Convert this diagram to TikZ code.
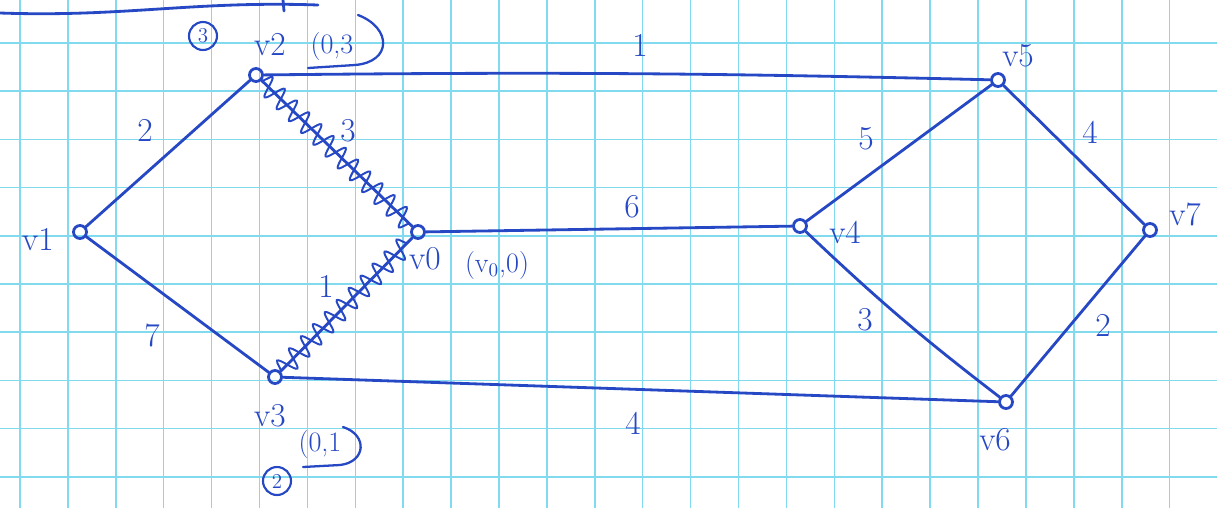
\documentclass[tikz,border=0pt]{standalone}
\usepackage{fontspec}
\usetikzlibrary{decorations.pathmorphing}
\definecolor{pen}{RGB}{38,72,196}
\definecolor{paper}{RGB}{130,218,238}
\begin{document}
\begin{tikzpicture}[x=0.02cm, y=-0.02cm,
    ink/.style={pen, line width=1.6pt, line cap=round},
    vert/.style={circle, draw=pen, line width=1.6pt, inner sep=0pt, minimum size=0.26cm},
    lbl/.style={pen, font=\fontsize{19}{21}\selectfont, inner sep=1pt},
    note/.style={pen, font=\fontsize{16}{18}\selectfont, inner sep=1pt},
    ring/.style={circle, draw=pen, line width=1.2pt, pen, inner sep=0pt, minimum size=0.56cm,
        font=\fontsize{12}{13}\selectfont},
    spring/.style={pen, line width=1.1pt, decorate,
        decoration={snake, amplitude=0.2cm, segment length=0.34cm}}]
    % Paper and grid
    \fill[white] (0,0) rectangle (1217,508);
    \useasboundingbox (0,0) rectangle (1217,508);
    \foreach \gx in {0,...,25}
        \draw[paper, line width=0.9pt] ({20+47.9*\gx},0) -- ({20+47.9*\gx},508);
    \foreach \gy in {0,...,9}
        \draw[paper, line width=0.9pt] (0,{43+48.2*\gy}) -- (1217,{43+48.2*\gy});

    % Stroke at the top edge
    \draw[ink] (0,13) to[out=-2,in=178] (318,5);
    \draw[ink] (283,0) -- (284,11);

    % Vertices
    \node[vert] (v1) at (80,232) {};
    \node[vert] (v2) at (256,75) {};
    \node[vert] (v3) at (275,377) {};
    \node[vert] (v0) at (418,232) {};
    \node[vert] (v4) at (800,226) {};
    \node[vert] (v5) at (998,80) {};
    \node[vert] (v7) at (1150,230) {};
    \node[vert] (v6) at (1006,402) {};

    % Vertex names
    \node[lbl] (n1) at (38,240) {v1};
    \node[lbl] (n2) at (270,45) {v2};
    \node[lbl] (n3) at (270,416) {v3};
    \node[lbl] (n0) at (425,259) {v0};
    \node[lbl] (n4) at (845,232) {v4};
    \node[lbl] (n5) at (1018,56) {v5};
    \node[lbl] (n7) at (1185,214) {v7};
    \node[lbl] (n6) at (995,440) {v6};

    % Distance notes
    \node[note] (d2) at (332,46) {(0,3};
    \draw[ink, line width=1.3pt] (358,15) .. controls (392,28) and (392,62) .. (355,65) -- (308,68);
    \node[note] (d3) at (320,444) {(0,1};
    \draw[ink, line width=1.3pt] (343,427) .. controls (368,435) and (366,462) .. (340,465) -- (303,467);
    \node[note] (d0) at (497,265) {(v$_0$,0)};
    \node[ring] (c3) at (203,36) {3};
    \node[ring] (c2) at (277,481) {2};

    % Edges
    \draw[ink] (v1) -- (v2);
    \draw[ink] (v1) -- (v3);
    \draw[ink] (v2) to[bend left=1] (v5);
    \draw[ink] (v3) -- (v6);
    \draw[ink] (v0) -- (v4);
    \draw[ink] (v4) -- (v5);
    \draw[ink] (v5) -- (v7);
    \draw[ink] (v4) to[bend right=3] (v6);
    \draw[ink] (v6) -- (v7);

    % Coiled edges
    \draw[ink] (v2) -- (v0);
    \draw[spring] (v2) -- (v0);
    \draw[ink] (v3) -- (v0);
    \draw[spring] (v3) -- (v0);

    % Weights
    \node[lbl] (w25) at (640,45) {1};
    \node[lbl] (w12) at (145,130) {2};
    \node[lbl] (w20) at (348,131) {3};
    \node[lbl] (w30) at (326,286) {1};
    \node[lbl] (w13) at (152,335) {7};
    \node[lbl] (w04) at (632,207) {6};
    \node[lbl] (w36) at (633,423) {4};
    \node[lbl] (w45) at (866,139) {5};
    \node[lbl] (w57) at (1090,132) {4};
    \node[lbl] (w46) at (865,320) {3};
    \node[lbl] (w67) at (1103,325) {2};
\end{tikzpicture}
\end{document}
